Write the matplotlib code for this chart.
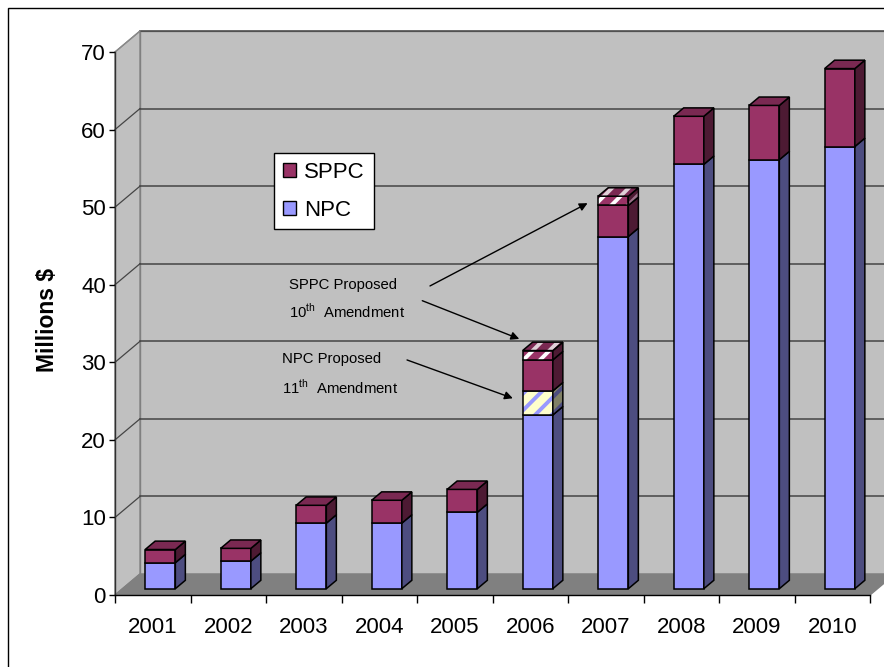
import numpy as np
import matplotlib.pyplot as plt
from matplotlib.patches import Polygon, Rectangle, Patch

plt.rcParams['font.family'] = ['Liberation Sans', 'DejaVu Sans']
plt.rcParams['mathtext.fontset'] = 'custom'
plt.rcParams['mathtext.rm'] = 'Liberation Sans'
plt.rcParams['hatch.linewidth'] = 2.8

# data (millions $)
years = ['2001', '2002', '2003', '2004', '2005', '2006', '2007', '2008', '2009', '2010']
npc = [3.35, 3.55, 8.45, 8.45, 9.85, 22.4, 45.4, 54.7, 55.3, 57.0]
npc_prop = [0, 0, 0, 0, 0, 3.1, 0, 0, 0, 0]
sppc = [1.7, 1.65, 2.3, 2.95, 2.95, 4.0, 4.0, 6.2, 7.0, 10.05]
sppc_prop = [0, 0, 0, 0, 0, 1.2, 1.2, 0, 0, 0]

# fake 3d geometry
DX = 25 / 75.5      # depth offset in category units
DY = 21 / 7.757     # depth offset in value units
D0, D1 = 0.3, 0.7   # bar depth range
W = 0.4             # bar width


def face(ax, pts, fc, hatch=None, hc=None, z=3):
    ax.add_patch(Polygon(pts, closed=True, facecolor=fc, edgecolor='none',
                         clip_on=False, zorder=z))
    if hatch:
        ax.add_patch(Polygon(pts, closed=True, facecolor='none', edgecolor=hc,
                             lw=0, hatch=hatch, clip_on=False, zorder=z))
    ax.add_patch(Polygon(pts, closed=True, facecolor='none', edgecolor='black',
                         lw=1.1, clip_on=False, zorder=z))


def box(ax, xc, y0, y1, cols, hatch=None, hcols=None, top=False):
    x0 = xc - W / 2 + D0 * DX
    a = y0 + D0 * DY
    b = y1 + D0 * DY
    dx = (D1 - D0) * DX
    dy = (D1 - D0) * DY
    hc = hcols if hcols else [None, None, None]
    face(ax, [(x0, a), (x0 + W, a), (x0 + W, b), (x0, b)], cols[0], hatch, hc[0])
    face(ax, [(x0 + W, a), (x0 + W + dx, a + dy), (x0 + W + dx, b + dy), (x0 + W, b)],
         cols[1], hatch, hc[1])
    if top:
        face(ax, [(x0, b), (x0 + W, b), (x0 + W + dx, b + dy), (x0 + dx, b + dy)],
             cols[2], hatch, hc[2])


fig = plt.figure(figsize=(8.84, 6.67), dpi=100)
ax = fig.add_axes([115 / 884, 72 / 667, 755 / 884, 543 / 667])
ax.set_facecolor('none')
ax.set_xlim(-0.5, 9.5)
ax.set_ylim(0, 70)

n = len(years)
xl, xr = -0.5, n - 0.5
ymax = 70

# walls and floor
ax.add_patch(Polygon([(xl + DX, DY), (xr + DX, DY), (xr + DX, ymax + DY), (xl + DX, ymax + DY)],
                     facecolor='#c0c0c0', edgecolor='#808080', lw=1, clip_on=False, zorder=0))
ax.add_patch(Polygon([(xl, 0), (xl + DX, DY), (xl + DX, ymax + DY), (xl, ymax)],
                     facecolor='#c0c0c0', edgecolor='#808080', lw=1, clip_on=False, zorder=0))
ax.add_patch(Polygon([(xl, 0), (xr, 0), (xr + DX, DY), (xl + DX, DY)],
                     facecolor='#808080', edgecolor='#808080', lw=1, clip_on=False, zorder=0))

# gridlines on back and side walls
for v in range(10, 71, 10):
    ax.plot([xl + DX, xr + DX], [v + DY, v + DY], color='#454545', lw=1.1,
            clip_on=False, zorder=1)
    ax.plot([xl, xl + DX], [v, v + DY], color='#8a8a8a' if v == ymax else '#454545',
            lw=0.9, clip_on=False, zorder=1)

# bars
c_npc = ['#9999ff', '#4d4d80', '#7a7acc']
c_npcp = ['#ffffcc', '#808066', '#cccca3']
h_npcp = ['#9999ff', '#4d4d80', '#7a7acc']
c_sppc = ['#993366', '#4d1a33', '#7a2952']
h_sppc = ['white', '#9a7088', '#e0d0d8']

for i in range(n):
    segs = [(npc[i], c_npc, None, None),
            (npc_prop[i], c_npcp, '//', h_npcp),
            (sppc[i], c_sppc, None, None),
            (sppc_prop[i], c_sppc, '//', h_sppc)]
    segs = [s for s in segs if s[0] > 0]
    base = 0
    for k, (val, cols, hatch, hcols) in enumerate(segs):
        box(ax, i, base, base + val, cols, hatch, hcols, top=(k == len(segs) - 1))
        base += val

# axes
for s in ['top', 'right']:
    ax.spines[s].set_visible(False)
ax.spines['left'].set_color('#303030')
ax.spines['left'].set_linewidth(1)
ax.spines['bottom'].set_linewidth(1)
ax.set_yticks(range(0, 71, 10))
ax.tick_params(axis='y', direction='out', length=4.5, width=1, labelsize=16, pad=2)
ax.set_xticks(np.arange(-0.5, n, 1))
ax.set_xticklabels([])
ax.set_xticks(np.arange(n), minor=True)
ax.set_xticklabels(years, minor=True)
ax.tick_params(axis='x', which='major', direction='out', length=6, width=1)
ax.tick_params(axis='x', which='minor', length=0, labelsize=16, pad=16)

fig.text(47 / 884, 1 - 320 / 667, 'Millions $', rotation=90, ha='center', va='center',
         fontsize=16.5, fontweight='bold')

# legend
leg = ax.legend(handles=[Patch(facecolor=c_sppc[0], edgecolor='black'),
                         Patch(facecolor=c_npc[0], edgecolor='black')],
                labels=['SPPC', 'NPC'], loc='upper left',
                bbox_to_anchor=(274 / 884, 1 - 153 / 667), bbox_transform=fig.transFigure,
                fontsize=16, frameon=True, fancybox=False, framealpha=1,
                edgecolor='black', borderpad=0.4, labelspacing=0.75,
                handlelength=0.6, handleheight=0.6, handletextpad=0.35, borderaxespad=0)
leg.get_frame().set_linewidth(1)
leg.set_zorder(5)

# annotations
fs = 10.7
ax.text(1.805, 39.96, 'SPPC Proposed', fontsize=fs, va='center', ha='left')
ax.text(1.805, 36.5, '10$^{\\rm th}$  Amendment', fontsize=fs, va='center', ha='left')
ax.text(1.71, 30.4, 'NPC Proposed', fontsize=fs, va='center', ha='left')
ax.text(1.71, 26.8, '11$^{\\rm th}$  Amendment', fontsize=fs, va='center', ha='left')

aprops = dict(arrowstyle='-|>', color='black', lw=1, mutation_scale=12, shrinkA=0, shrinkB=0)
front_left = lambda i: i - W / 2 + D0 * DX
i7 = 6
ax.annotate('', xy=(front_left(i7) - 0.14, npc[i7] + sppc[i7] + sppc_prop[i7] / 2 + D0 * DY - 0.3),
            xytext=(3.672, 39.84), arrowprops=aprops)
i6 = 5
top6 = npc[i6] + npc_prop[i6] + sppc[i6] + sppc_prop[i6]
ax.annotate('', xy=(front_left(i6) - 0.045, top6 + D0 * DY + 1.5),
            xytext=(3.57, 37.94), arrowprops=aprops)
ax.annotate('', xy=(front_left(i6) - 0.13, npc[i6] + npc_prop[i6] / 2 + D0 * DY + 0.6),
            xytext=(3.368, 30.3), arrowprops=aprops)

# outer frame
fig.add_artist(Rectangle((8 / 884, -0.05), 1.0, 1 - 8 / 667 + 0.05, transform=fig.transFigure,
                         fill=False, edgecolor='black', lw=1))

fig.savefig('out.png', dpi=100)
